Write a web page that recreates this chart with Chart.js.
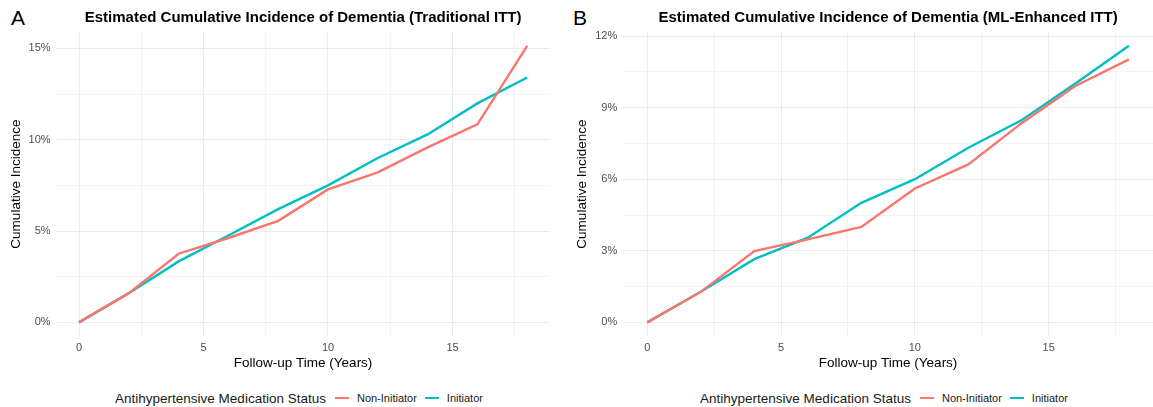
<!DOCTYPE html>
<html>
<head>
<meta charset="utf-8">
<script src="https://cdn.jsdelivr.net/npm/chart.js@4/dist/chart.umd.min.js"></script>
<style>
  html, body { margin: 0; padding: 0; background: #fff; }
  body { width: 1153px; height: 407px; position: relative; overflow: hidden;
         font-family: 'Liberation Sans', Arial, sans-serif; }
  .panel { position: absolute; top: 0; height: 371px; }
  .tag { position: absolute; top: 7px; font-size: 21px; line-height: 21px; color: #000; }
  .legend { position: absolute; top: 389px; height: 18px; display: flex; align-items: center;
            transform: translateX(-50%); white-space: nowrap; color: #1a1a1a; }
  .legend .ttl { font-size: 13.5px; margin-right: 9px; }
  .legend .key { width: 14px; height: 2.5px; margin-right: 8px; }
  .legend .lbl { font-size: 11px; margin-right: 8px; }
</style>
</head>
<body>
<div class="tag" style="left:11px">A</div>
<div class="tag" style="left:573px">B</div>
<div class="panel" style="left:0; width:576px"><canvas id="chartA"></canvas></div>
<div class="panel" style="left:566px; width:587px"><canvas id="chartB"></canvas></div>
<div class="legend" id="legendA" style="left:303px"></div>
<div class="legend" id="legendB" style="left:888px"></div>
<script>
// follow-up years
const years = [0, 2, 4, 6, 8, 10, 12, 14, 16, 18];

// panel A: traditional ITT (cumulative incidence, %)
const nonInitA = [0, 1.6, 3.76, 4.62, 5.56, 7.28, 8.21, 9.58, 10.84, 15.14];
const initA    = [0, 1.6, 3.34, 4.76, 6.2, 7.5, 9.0, 10.29, 11.99, 13.41];

// panel B: ML-enhanced ITT (cumulative incidence, %)
const nonInitB = [0, 1.28, 2.99, 3.48, 4.0, 5.61, 6.62, 8.36, 9.91, 11.02];
const initB    = [0, 1.28, 2.65, 3.55, 5.01, 6.0, 7.32, 8.48, 10.01, 11.59];

const seriesNames = ['Non-Initiator', 'Initiator'];
const seriesColors = ['#F8766D', '#00BFC4'];
const legendTitle = 'Antihypertensive Medication Status';

const FONT = "'Liberation Sans', Arial, sans-serif";
const GRID_MAJOR = '#EBEBEB';
const GRID_MINOR = '#F3F3F3';

function isMult(v, m) {
  return Math.abs(v / m - Math.round(v / m)) < 1e-6;
}

function makeChart(id, title, a, b, yMax, yStep, yLabelEvery, axisWidth, padRight) {
  const ctx = document.getElementById(id).getContext('2d');
  return new Chart(ctx, {
    type: 'line',
    data: {
      datasets: [a, b].map((vals, i) => ({
        label: seriesNames[i],
        data: years.map((yr, j) => ({ x: yr, y: vals[j] })),
        borderColor: seriesColors[i],
        backgroundColor: seriesColors[i],
        borderWidth: 2.4,
        pointRadius: 0,
        tension: 0,
        fill: false
      }))
    },
    options: {
      responsive: true,
      maintainAspectRatio: false,
      animation: false,
      layout: { padding: { left: 0, right: padRight, top: 0, bottom: 0 } },
      plugins: {
        legend: { display: false },
        tooltip: { enabled: false },
        title: {
          display: true,
          text: title,
          fullSize: false,
          color: '#000',
          font: { family: FONT, size: 15, weight: 'bold' },
          padding: { top: 9, bottom: 5 }
        }
      },
      scales: {
        x: {
          type: 'linear',
          min: -0.9,
          max: 18.9,
          border: { display: false },
          grid: {
            drawTicks: false,
            color: (c) => isMult(c.tick.value, 5) ? GRID_MAJOR : GRID_MINOR,
            lineWidth: 1
          },
          ticks: {
            stepSize: 2.5,
            includeBounds: false,
            autoSkip: false,
            maxRotation: 0,
            padding: 5.2,
            color: '#4D4D4D',
            font: { family: FONT, size: 11 },
            callback: (v) => isMult(v, 5) ? String(v) : ''
          },
          title: {
            display: true,
            text: 'Follow-up Time (Years)',
            color: '#000',
            font: { family: FONT, size: 13.5 },
            padding: { top: -5, bottom: 0 }
          }
        },
        y: {
          min: -yMax * 0.05 / 1.05,
          max: yMax,
          border: { display: false },
          afterFit: (s) => { s.width = axisWidth; },
          grid: {
            drawTicks: false,
            color: (c) => isMult(c.tick.value, yLabelEvery) ? GRID_MAJOR : GRID_MINOR,
            lineWidth: 1
          },
          ticks: {
            stepSize: yStep,
            includeBounds: false,
            autoSkip: false,
            padding: 6,
            color: '#4D4D4D',
            font: { family: FONT, size: 11 },
            callback: (v) => isMult(v, yLabelEvery) ? Math.round(v) + '%' : ''
          },
          title: {
            display: true,
            text: 'Cumulative Incidence',
            color: '#000',
            font: { family: FONT, size: 13.5 },
            padding: { top: 8.6, bottom: 0 }
          }
        }
      }
    }
  });
}

makeChart('chartA', 'Estimated Cumulative Incidence of Dementia (Traditional ITT)',
  nonInitA, initA, 15.9, 2.5, 5, 56.6, 26.4);
makeChart('chartB', 'Estimated Cumulative Incidence of Dementia (ML-Enhanced ITT)',
  nonInitB, initB, 12.17, 1.5, 3, 57.2, 0);

function buildLegend(id) {
  const el = document.getElementById(id);
  let html = '<span class="ttl">' + legendTitle + '</span>';
  seriesNames.forEach((name, i) => {
    html += '<span class="key" style="background:' + seriesColors[i] + '"></span>';
    html += '<span class="lbl">' + name + '</span>';
  });
  el.innerHTML = html;
}
buildLegend('legendA');
buildLegend('legendB');
</script>
</body>
</html>
